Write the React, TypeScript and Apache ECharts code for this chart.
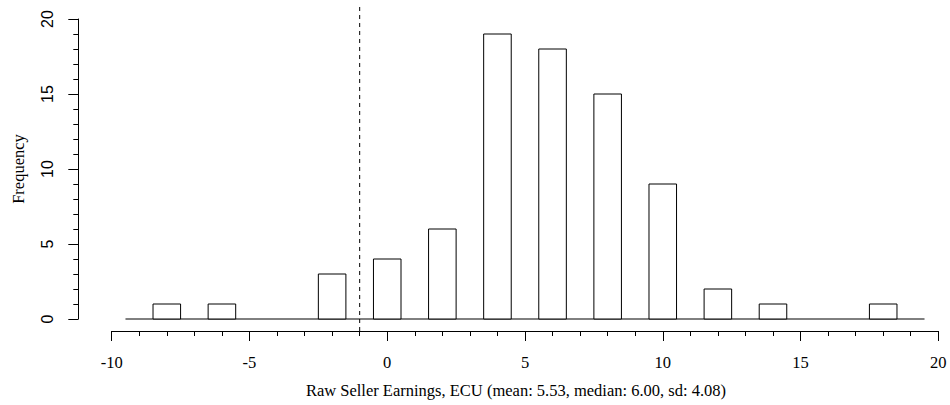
import React, { useEffect, useRef } from "react";
import * as echarts from "echarts";

// Histogram bins (centre of each unit-wide bin) and their frequencies
const binCenters = [-9, -8, -7, -6, -5, -4, -3, -2, -1, 0, 1, 2, 3, 4, 5, 6, 7, 8, 9, 10, 11, 12, 13, 14, 15, 16, 17, 18, 19];
const frequencies = [0, 1, 0, 1, 0, 0, 0, 3, 0, 4, 0, 6, 0, 19, 0, 18, 0, 15, 0, 9, 0, 2, 0, 1, 0, 0, 0, 1, 0];
const binWidth = 1;
const referenceLine = -1;
const xTicks = { min: -10, max: 20, interval: 5 };
const yTicks = { min: 0, max: 20, interval: 5 };
const xTitle = "Raw Seller Earnings, ECU (mean: 5.53, median: 6.00, sd: 4.08)";
const yTitle = "Frequency";

const SERIF = "'Liberation Serif', 'Times New Roman', serif";
const SANS = "'Liberation Sans', Arial, sans-serif";

export default function App() {
  const ref = useRef<HTMLDivElement>(null);
  useEffect(() => {
    if (!ref.current) return;
    const chart = echarts.init(ref.current, null, { renderer: "svg" });
    const data = binCenters.map((c, i) => [c, frequencies[i]]);
    const lo = binCenters[0] - binWidth / 2;
    const hi = binCenters[binCenters.length - 1] + binWidth / 2;
    const axisStyle = { lineStyle: { color: "#000", width: 1 } };
    const option: any = {
      animation: false,
      backgroundColor: "#fff",
      grid: { left: 111.7, top: 19, width: 826.6, height: 300, containLabel: false },
      xAxis: {
        type: "value",
        min: xTicks.min,
        max: xTicks.max,
        interval: xTicks.interval,
        offset: 12,
        axisLine: { show: true, onZero: false, ...axisStyle },
        axisTick: { show: true, length: 10, ...axisStyle },
        minorTick: { show: true, splitNumber: 5, length: 5, ...axisStyle },
        splitLine: { show: false },
        axisLabel: { color: "#000", fontFamily: SERIF, fontSize: 16.5, margin: 23 },
      },
      yAxis: {
        type: "value",
        min: yTicks.min,
        max: yTicks.max,
        interval: yTicks.interval,
        offset: 33.4,
        axisLine: { show: true, onZero: false, ...axisStyle },
        axisTick: { show: true, length: 10, ...axisStyle },
        minorTick: { show: true, splitNumber: 5, length: 5, ...axisStyle },
        splitLine: { show: false },
        axisLabel: { color: "#000", fontFamily: SANS, fontSize: 16, margin: 23, rotate: 90 },
      },
      graphic: [
        {
          type: "text",
          x: 18,
          y: 169,
          rotation: Math.PI / 2,
          style: { text: yTitle, fill: "#000", font: `16.5px ${SERIF}`, align: "center", verticalAlign: "middle" },
        },
        {
          type: "text",
          x: 516,
          y: 390,
          style: { text: xTitle, fill: "#000", font: `16.5px ${SERIF}`, align: "center", verticalAlign: "middle" },
        },
      ],
      series: [
        {
          type: "custom",
          clip: false,
          data: [[lo, hi]],
          renderItem: (params: any, api: any) => {
            const a = api.coord([api.value(0), 0]);
            const b = api.coord([api.value(1), 0]);
            return {
              type: "line",
              shape: { x1: a[0], y1: a[1], x2: b[0], y2: b[1] },
              style: { stroke: "#000", lineWidth: 1 },
            };
          },
        },
        {
          type: "custom",
          clip: false,
          data,
          renderItem: (params: any, api: any) => {
            const c = api.value(0);
            const f = api.value(1);
            if (!f) return null;
            const tl = api.coord([c - binWidth / 2, f]);
            const br = api.coord([c + binWidth / 2, 0]);
            return {
              type: "rect",
              shape: { x: tl[0], y: tl[1], width: br[0] - tl[0], height: br[1] - tl[1] },
              style: { fill: "#fff", stroke: "#000", lineWidth: 1 },
            };
          },
        },
        {
          type: "custom",
          clip: false,
          data: [[referenceLine]],
          renderItem: (params: any, api: any) => {
            const x = api.value(0);
            const top = api.coord([x, yTicks.max * 1.04]);
            const bot = api.coord([x, -yTicks.max * 0.04]);
            return {
              type: "line",
              shape: { x1: top[0], y1: top[1], x2: bot[0], y2: bot[1] },
              style: { stroke: "#000", lineWidth: 1, lineDash: [4, 4] },
            };
          },
        },
      ],
    };
    chart.setOption(option);
    return () => chart.dispose();
  }, []);
  return <div ref={ref} style={{ position: "fixed", left: 0, top: 0, width: 950, height: 405 }} />;
}
